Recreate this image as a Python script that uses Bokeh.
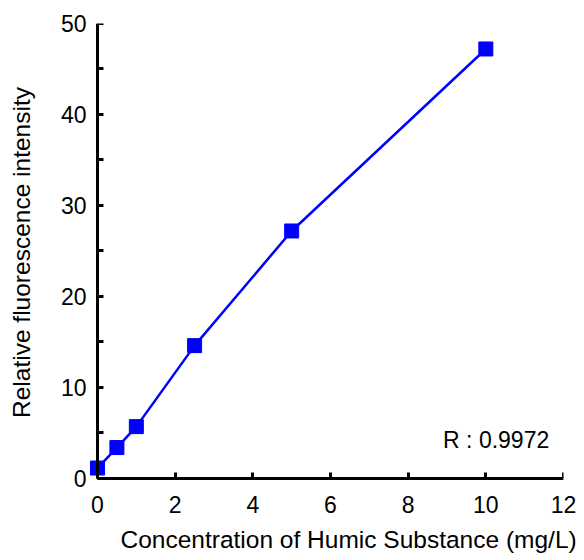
from bokeh.plotting import figure
from bokeh.models import FixedTicker, Range1d, Label, LinearAxis, Title
from bokeh.embed import file_html
from bokeh.resources import INLINE

conc = [0, 0.5, 1, 2.5, 5, 10]
intensity = [1.15, 3.4, 5.7, 14.6, 27.2, 47.2]
x_ticks = [0, 2, 4, 6, 8, 10, 12]
y_ticks = [0, 10, 20, 30, 40, 50]
y_minor = [5, 15, 25, 35, 45]

FONT = "Liberation Sans"

# frame extends slightly beyond the axes so the markers at 0 are not clipped
p = figure(width=584, height=560, output_backend="svg", toolbar_location=None,
           x_range=Range1d(-0.206, 12), y_range=Range1d(-0.33, 50),
           min_border_left=89, min_border_right=21, min_border_top=23, min_border_bottom=79)
p.outline_line_color = None
p.grid.visible = False

p.line(conc, intensity, line_color="#0000ff", line_width=2.5)
p.scatter(conc, intensity, marker="square", size=14, fill_color="#0000ff", line_color="#0000ff")

# label-only axes on the frame edge
for ax in (p.xaxis[0], p.yaxis[0]):
    ax.axis_line_color = None
    ax.major_tick_line_color = None
    ax.minor_tick_line_color = None
    ax.major_tick_out = 0
    ax.minor_tick_out = 0
    ax.major_label_text_font = FONT
    ax.major_label_text_font_size = "23px"
    ax.major_label_text_color = "black"
    ax.axis_label_text_font = FONT
    ax.axis_label_text_font_size = "24.5px"
    ax.axis_label_text_font_style = "normal"
    ax.axis_label_text_color = "black"
p.xaxis[0].ticker = FixedTicker(ticks=x_ticks)
p.yaxis[0].ticker = FixedTicker(ticks=y_ticks)
p.yaxis[0].axis_label = "Relative fluorescence intensity"
p.xaxis[0].major_label_standoff = 14
p.yaxis[0].major_label_standoff = 3
p.yaxis[0].axis_label_standoff = 23

# line + tick axes located at zero
def line_axis(ticker, bounds):
    return LinearAxis(fixed_location=0, ticker=ticker, bounds=bounds,
                      axis_line_width=3, axis_line_color="black",
                      major_tick_in=6, major_tick_out=0, major_tick_line_width=3,
                      minor_tick_in=6, minor_tick_out=0, minor_tick_line_width=3,
                      major_label_text_alpha=0, major_label_text_font_size="0px",
                      major_label_standoff=0)

p.add_layout(line_axis(FixedTicker(ticks=x_ticks), (0, 12)), "below")
p.add_layout(line_axis(FixedTicker(ticks=y_ticks, minor_ticks=y_minor), (0, 50)), "left")

p.add_layout(Title(text="Concentration of Humic Substance (mg/L)", align="left", offset=31,
                   standoff=16, text_font=FONT, text_font_size="24.5px", text_line_height=1.0,
                   text_font_style="normal", text_color="black"), "below")

p.add_layout(Label(x=8.9, y=4.2, text="R : 0.9972", text_font=FONT, text_font_size="23px",
                   text_baseline="middle", text_align="left", text_color="black"))

open("out.html", "w").write(file_html(p, INLINE))
